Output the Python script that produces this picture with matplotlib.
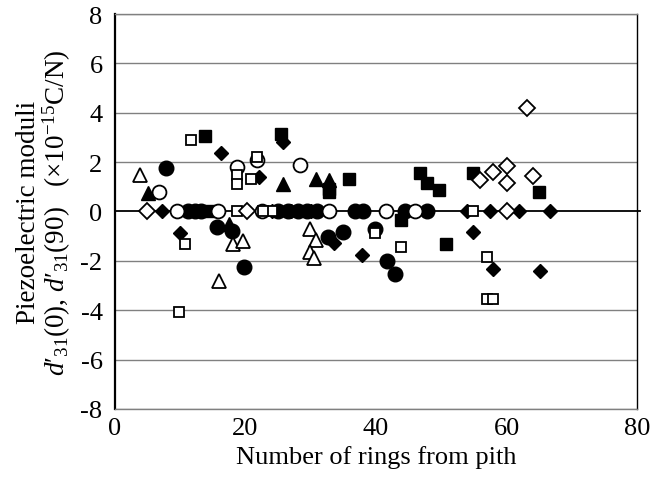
import matplotlib
matplotlib.use("Agg")
import matplotlib.pyplot as plt

plt.rcParams["font.family"] = ["Liberation Serif", "DejaVu Serif"]
plt.rcParams["mathtext.fontset"] = "custom"
plt.rcParams["mathtext.rm"] = "Liberation Serif"
plt.rcParams["mathtext.it"] = "Liberation Serif:italic"
plt.rcParams["axes.unicode_minus"] = False

# ── data ──
fc_x = [7.8, 11.2, 12.2, 13.2, 25.0, 26.5, 28.0, 29.5, 31.0, 36.8, 38.0, 44.4, 47.8,
        15.7, 17.9, 32.7, 35.0, 39.8, 19.7, 41.7, 42.9]
fc_y = [1.78, 0, 0, 0, 0, 0, 0, 0, 0, 0, 0, 0, 0,
        -0.62, -0.78, -1.02, -0.82, -0.69, -2.24, -1.99, -2.53]

oc_x = [6.7, 9.5, 15.8, 18.7, 21.7, 22.5, 28.4, 32.8, 41.6, 46.0]
oc_y = [0.8, 0, 0, 1.8, 2.07, 0, 1.87, 0, 0, 0]

ft_x = [5.0, 25.8, 30.8, 32.8, 17.4]
ft_y = [0.73, 1.13, 1.33, 1.26, -0.5]

ot_x = [3.8, 18.1, 19.6, 15.9, 29.9, 30.8, 29.9, 30.5]
ot_y = [1.49, -1.3, -1.2, -2.83, -0.69, -1.16, -1.63, -1.9]

fs_x = [13.8, 25.5, 32.8, 32.8, 35.8, 46.7, 47.8, 49.7, 54.8, 65.0, 43.8, 50.7, 14.6]
fs_y = [3.06, 3.15, 0.93, 0.8, 1.33, 1.54, 1.17, 0.86, 1.56, 0.77, -0.35, -1.33, 0]

os_x = [11.6, 10.7, 9.8, 18.7, 18.7, 21.7, 20.8, 18.7, 24.0, 22.7, 39.8, 43.8,
        54.9, 57.0, 57.0, 57.9]
os_y = [2.88, -1.32, -4.09, 1.47, 1.13, 2.2, 1.33, 0, 0, 0, -0.89, -1.43,
        0, -1.83, -3.54, -3.54]

fd_x = [7.2, 16.2, 10.0, 22.1, 25.8, 33.5, 37.8, 24.0, 27.0, 30.0,
        53.9, 57.5, 61.9, 66.6, 54.9, 58.0, 65.1]
fd_y = [0, 2.37, -0.89, 1.4, 2.82, -1.29, -1.77, 0, 0, 0,
        0, 0, 0, 0, -0.85, -2.33, -2.41]

od_x = [4.95, 20.2, 63.1, 55.9, 58.0, 60.0, 60.0, 64.0, 60.0]
od_y = [0, 0, 4.19, 1.26, 1.58, 1.85, 1.17, 1.44, 0]

xticks = [0, 20, 40, 60, 80]
yticks = [-8, -6, -4, -2, 0, 2, 4, 6, 8]

fig = plt.figure(figsize=(6.52, 4.89), dpi=100)
ax = fig.add_axes([0.1764, 0.1616, 0.8006, 0.8077])

for yv in yticks:
    if yv == 0:
        continue
    ax.axhline(yv, color="#808080", lw=1.0, zorder=1)
ax.plot([0, 80.5], [0, 0], color="black", lw=1.3, zorder=2, clip_on=False)

mew = 1.3
ax.plot(fc_x, fc_y, "o", ms=10.5, mfc="black", mec="black", zorder=3)
ax.plot(ft_x, ft_y, "^", ms=9.5, mfc="black", mec="black", zorder=3)
ax.plot(fs_x, fs_y, "s", ms=8, mfc="black", mec="black", zorder=3)
ax.plot(fd_x, fd_y, "D", ms=7, mfc="black", mec="black", zorder=3)
ax.plot(oc_x, oc_y, "o", ms=10, mfc="white", mec="black", mew=mew, zorder=4)
ax.plot(ot_x, ot_y, "^", ms=9.5, mfc="white", mec="black", mew=mew, zorder=4)
ax.plot(os_x, os_y, "s", ms=7.5, mfc="white", mec="black", mew=mew, zorder=4)
ax.plot(od_x, od_y, "D", ms=8, mfc="white", mec="black", mew=mew, zorder=4)

ax.set_xlim(0, 80)
ax.set_ylim(-8, 8)
ax.set_xticks(xticks)
ax.set_yticks(yticks)
ax.tick_params(axis="both", length=0, labelsize=19, pad=6)
ax.tick_params(axis="y", pad=9)
for s in ax.spines.values():
    s.set_linewidth(1.0)
ax.spines["left"].set_linewidth(1.6)
ax.spines["top"].set_color("#808080")
ax.spines["bottom"].set_color("#808080")

ax.set_xlabel("Number of rings from pith", fontsize=19, labelpad=4)
ax.set_ylabel("Piezoelectric moduli\n"
              "$d$\u2032$_{31}$(0), $d$\u2032$_{31}$(90)   (×10$^{-15}$C/N)",
              fontsize=19.5, labelpad=5, linespacing=1.0)

fig.savefig("out.png", dpi=100)
